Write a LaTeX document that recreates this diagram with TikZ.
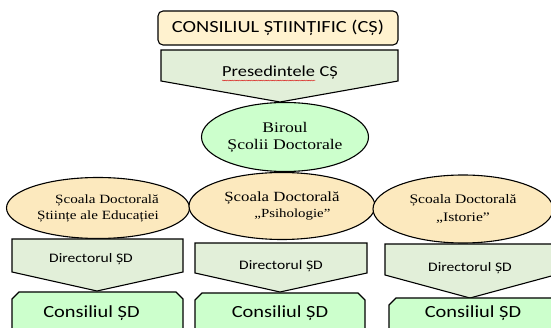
\documentclass[tikz,border=0pt]{standalone}
\usepackage{fontspec}
\newfontfamily\wsans{Carlito}[FakeStretch=1.2]
\newfontfamily\wserif{Liberation Serif}[FakeStretch=1.2]
\usetikzlibrary{shapes.geometric, decorations.pathmorphing}
\definecolor{councilfill}{RGB}{255,242,207}
\definecolor{schoolfill}{RGB}{252,233,190}
\definecolor{chevfill}{RGB}{226,239,217}
\definecolor{mintfill}{RGB}{204,255,204}
\tikzset{
    council/.style={rectangle, rounded corners=5pt, draw, line width=1.1pt, fill=councilfill, minimum width=240pt, minimum height=34pt, inner sep=0pt, font=\wsans\fontsize{17}{20}\selectfont},
    chevron/.style={draw, line width=1.1pt, fill=chevfill},
    snipbox/.style={draw, line width=1.1pt, fill=mintfill},
    bureau/.style={ellipse, draw, line width=1.1pt, fill=mintfill, inner sep=0pt, align=center, font=\wserif\fontsize{14.7}{17}\selectfont},
    school/.style={ellipse, draw, line width=1.1pt, fill=schoolfill, inner sep=0pt},
    lbl/.style={inner sep=0pt, anchor=base},
    dirlbl/.style={lbl, font=\wsans\fontsize{13}{15}\selectfont},
    sdlbl/.style={lbl, font=\wsans\fontsize{17}{20}\selectfont},
    spellwave/.style={draw=red!85!black, line width=0.4pt, decorate, decoration={snake, amplitude=0.45pt, segment length=2.4pt}}
}
\begin{document}
\begin{tikzpicture}[x=1pt, y=-1pt]
    \useasboundingbox (0,0) rectangle (551,328);
    \clip (0,0) rectangle (551,328);
    % Scientific council
    \node[council] (cs) at (278,28) {CONSILIUL ȘTIINȚIFIC (CȘ)};
    % President
    \draw[chevron] (161,50) -- (398,50) -- (398,81) -- (280,102) -- (161,81) -- cycle;
    \node[lbl, anchor=base west, font=\wsans\fontsize{15.3}{18}\selectfont] (presA) at (222,77) {Presedintele};
    \node[lbl, anchor=base west, font=\wsans\fontsize{15.3}{18}\selectfont] (presB) at ([xshift=4.1pt]presA.base east) {CȘ};
    \draw[spellwave] ([yshift=-3.5pt]presA.base west) -- ([yshift=-3.5pt]presA.base east);
    % Bureau of the doctoral school
    \node[bureau, minimum width=167pt, minimum height=69pt] (bsd) at (285,137) {Biroul\\Școlii Doctorale};
    % Doctoral schools
    \node[school, minimum width=183pt, minimum height=61pt, align=right, font=\wserif\fontsize{12.6}{16}\selectfont] (sd1) at (98,208) {Școala Doctorală\\Științe ale Educației};
    \node[school, minimum width=186pt, minimum height=67pt, align=left, font=\wserif\fontsize{14}{16}\selectfont] (sd2) at (282,206) {Școala Doctorală\\\hspace*{30pt}{\fontsize{12.4}{16}\selectfont „Psihologie”}};
    \node[school, minimum width=180pt, minimum height=68pt, align=center, font=\wserif\fontsize{13}{18}\selectfont] (sd3) at (463,209) {Școala Doctorală\\„Istorie”};
    % Directors
    \draw[chevron] (12,239) -- (183,239) -- (183,272) -- (97,291) -- (12,272) -- cycle;
    \node[dirlbl] (dir1) at (91,262.5) {Directorul ȘD};
    \draw[chevron] (195,243) -- (367,243) -- (367,273) -- (280,292) -- (195,273) -- cycle;
    \node[dirlbl] (dir2) at (281,270) {Directorul ȘD};
    \draw[chevron] (385,244) -- (555,244) -- (555,275) -- (470,298) -- (385,275) -- cycle;
    \node[dirlbl] (dir3) at (470,272) {Directorul ȘD};
    % Councils of the doctoral schools
    \draw[snipbox] (12,340) -- (12,299) -- (19,292) -- (176,292) -- (183,299) -- (183,340) -- cycle;
    \node[sdlbl] (csd1) at (91.5,318) {Consiliul ȘD};
    \draw[snipbox] (195,340) -- (195,300) -- (202,293) -- (358,293) -- (365,300) -- (365,340) -- cycle;
    \node[sdlbl] (csd2) at (280,318) {Consiliul ȘD};
    \draw[snipbox] (389,340) -- (389,305) -- (396,298) -- (560,298) -- (560,340) -- cycle;
    \node[sdlbl] (csd3) at (473,318) {Consiliul ȘD};
\end{tikzpicture}
\end{document}
